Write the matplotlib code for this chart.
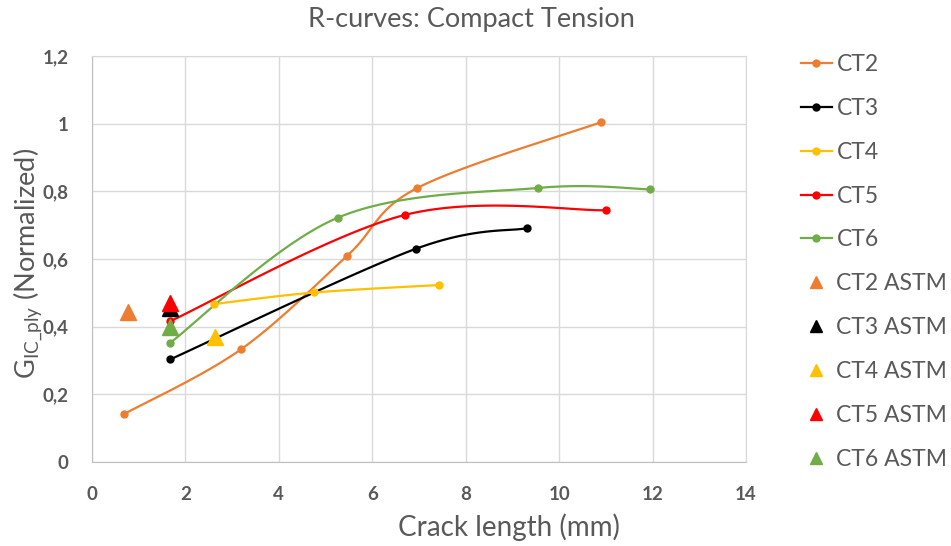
import numpy as np
import matplotlib
matplotlib.use("Agg")
import matplotlib.pyplot as plt
from matplotlib.lines import Line2D

plt.rcParams['font.family'] = ['Lato', 'DejaVu Sans']
plt.rcParams['mathtext.fontset'] = 'custom'
plt.rcParams['mathtext.rm'] = 'Lato'
plt.rcParams['mathtext.it'] = 'Lato:italic'

# R-curve data (crack length mm, normalized G_IC_ply)
ct2_x = [0.69, 3.19, 5.46, 6.95, 10.89]
ct2_y = [0.142, 0.333, 0.609, 0.809, 1.004]
ct3_x = [1.67, 6.93, 9.31]
ct3_y = [0.303, 0.630, 0.691]
ct4_x = [2.62, 4.76, 7.42]
ct4_y = [0.467, 0.501, 0.523]
ct5_x = [1.67, 6.69, 11.0]
ct5_y = [0.416, 0.730, 0.744]
ct6_x = [1.67, 5.26, 9.55, 11.94]
ct6_y = [0.352, 0.722, 0.810, 0.806]

# ASTM single points
astm_x = [0.77, 1.68, 2.64, 1.68, 1.68]
astm_y = [0.442, 0.455, 0.370, 0.471, 0.400]

names = ['CT2', 'CT3', 'CT4', 'CT5', 'CT6']
colors = ['#ED7D31', '#000000', '#FFC000', '#FF0000', '#70AD47']
series = [(ct2_x, ct2_y), (ct3_x, ct3_y), (ct4_x, ct4_y), (ct5_x, ct5_y), (ct6_x, ct6_y)]

gray = '#595959'


def smooth(xs, ys, n=40):
    # excel-like smoothed line: catmull-rom converted to cubic bezier
    p = np.column_stack([xs, ys]).astype(float)
    pts = []
    for i in range(len(p) - 1):
        p0 = p[i - 1] if i > 0 else p[i]
        p1 = p[i]
        p2 = p[i + 1]
        p3 = p[i + 2] if i + 2 < len(p) else p[i + 1]
        c1 = p1 + (p2 - p0) / 6.0
        c2 = p2 - (p3 - p1) / 6.0
        t = np.linspace(0, 1, n)[:, None]
        b = ((1 - t) ** 3) * p1 + 3 * ((1 - t) ** 2) * t * c1 + 3 * (1 - t) * t ** 2 * c2 + t ** 3 * p2
        pts.append(b if i == 0 else b[1:])
    b = np.vstack(pts)
    return b[:, 0], b[:, 1]


fig = plt.figure(figsize=(9.51, 5.46), dpi=100)
ax = fig.add_axes([92 / 951, 1 - 462 / 546, (746 - 92) / 951, (462 - 56) / 546])

handles = []
for (xs, ys), c, nm in zip(series, colors, names):
    sx, sy = smooth(xs, ys)
    ax.plot(sx, sy, color=c, lw=1.6, zorder=3)
    ax.plot(xs, ys, 'o', color=c, ms=5, zorder=4)
    handles.append(Line2D([], [], color=c, lw=1.6, marker='o', ms=5))

for x, y, c, nm in zip(astm_x, astm_y, colors, names):
    ax.plot([x], [y], '^', color=c, ms=11, zorder=5)
    handles.append(Line2D([], [], color=c, lw=0, marker='^', ms=9))

labels = names + [n + ' ASTM' for n in names]

ax.set_xlim(0, 14)
ax.set_ylim(0, 1.2)
ax.set_xticks(np.arange(0, 15, 2))
ax.set_yticks(np.arange(0, 1.21, 0.2))
ax.set_xticklabels([str(v) for v in range(0, 15, 2)])
ax.set_yticklabels(['0', '0,2', '0,4', '0,6', '0,8', '1', '1,2'])
ax.grid(True, color='#D9D9D9', lw=1)
ax.set_axisbelow(True)
for s in ax.spines.values():
    s.set_color('#D9D9D9')
ax.spines['left'].set_color('#BFBFBF')
ax.spines['bottom'].set_color('#BFBFBF')
ax.tick_params(length=0, labelsize=13.5, labelcolor=gray)
ax.tick_params(axis='x', pad=17)
ax.tick_params(axis='y', pad=17)
for lb in ax.get_xticklabels() + ax.get_yticklabels():
    lb.set_fontweight('bold')

fig.text(471 / 951, 1 - 20 / 546, 'R-curves: Compact Tension', fontsize=19.5,
         color=gray, ha='center', va='center')
fig.text(509 / 951, 1 - 527 / 546, 'Crack length (mm)', fontsize=20,
         color=gray, ha='center', va='center')
fig.text(28 / 951, 1 - 263 / 546, r'G$_{\mathrm{IC\_ply}}$ (Normalized)', fontsize=19.5,
         color=gray, ha='center', va='center', rotation=90)

leg = ax.legend(handles, labels, loc='upper left', bbox_to_anchor=(1.07, 1.028),
                frameon=False, fontsize=16.5, labelspacing=1.0, handlelength=1.35,
                handletextpad=0.2, borderaxespad=0)
for t in leg.get_texts():
    t.set_color(gray)

fig.savefig('out.png', dpi=100)
